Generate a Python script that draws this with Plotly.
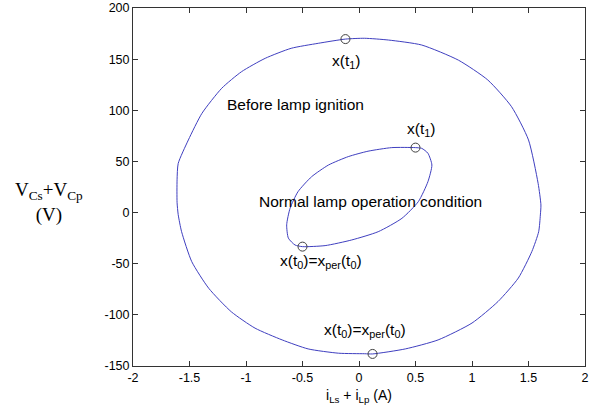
import plotly.graph_objects as go

# Phase-plane trajectory before lamp ignition (outer loop)
outer_i = [0.12, 0.41, 0.70, 1.00, 1.23, 1.41, 1.53, 1.59, 1.605, 1.61, 1.585, 1.50, 1.35, 1.14,
           0.88, 0.555, 0.26, 0.05, -0.12, -0.36, -0.60, -0.83, -1.04, -1.215, -1.39, -1.51,
           -1.60, -1.61, -1.61, -1.60, -1.57, -1.48, -1.33, -1.13, -0.92, -0.68, -0.45, -0.18,
           0.05, 0.12]
outer_v = [-138.2, -133.3, -124.5, -108, -87, -64, -38, -18.7, -2.3, 7.4, 28.6, 71, 103.5, 129.6,
           149, 163.8, 168.7, 170.4, 169.6, 165.5, 160.6, 150.8, 137.7, 121.5, 97, 71,
           48, 32, 10, -2, -18.7, -48, -74, -97, -113, -124.5, -133.3, -137.5,
           -138, -138.2]

# Steady-state trajectory under normal lamp operation (inner loop)
inner_i = [0.50, 0.29, 0.08, -0.095, -0.27, -0.42, -0.54, -0.61, -0.64, -0.625, -0.566, -0.50,
           -0.30, -0.065, 0.17, 0.38, 0.525, 0.61, 0.645, 0.61, 0.555, 0.50]
inner_v = [63.5, 63.5, 60, 54.7, 46.5, 35, 20.4, 4.2, -12, -25, -31.7, -33.3,
           -32.3, -26.8, -18.7, -5.6, 10.7, 30.2, 46.5, 58, 62.8, 63.5]

# Marked states x(t0) and x(t1) on each loop
mark_i = [-0.12, 0.12, 0.50, -0.50]
mark_v = [169.6, -138.2, 63.5, -33.3]

# Text labels: (text, i, v, anchor)
labels = [
    ("Before lamp ignition", -0.566, 105.2, "center"),
    ("Normal lamp operation condition", 0.106, 10.4, "center"),
    ("x(t<sub>1</sub>)", -0.257, 148.0, "left"),
    ("x(t<sub>1</sub>)", 0.407, 81.0, "left"),
    ("x(t<sub>0</sub>)=x<sub>per</sub>(t<sub>0</sub>)", -0.717, -47.5, "left"),
    ("x(t<sub>0</sub>)=x<sub>per</sub>(t<sub>0</sub>)", -0.327, -114.8, "left"),
]

x_ticks = [-2, -1.5, -1, -0.5, 0, 0.5, 1, 1.5, 2]
y_ticks = [-150, -100, -50, 0, 50, 100, 150, 200]

line_color = "#3f3fc0"
font_sans = "Liberation Sans, Arial, Helvetica, sans-serif"

fig = go.Figure()
fig.add_trace(go.Scatter(x=outer_i, y=outer_v, mode="lines",
                         line=dict(color=line_color, width=1, shape="spline", smoothing=0.6),
                         hoverinfo="skip", showlegend=False))
fig.add_trace(go.Scatter(x=inner_i, y=inner_v, mode="lines",
                         line=dict(color=line_color, width=1, shape="spline", smoothing=0.6),
                         hoverinfo="skip", showlegend=False))
fig.add_trace(go.Scatter(x=mark_i, y=mark_v, mode="markers",
                         marker=dict(symbol="circle-open", size=9, color="#404040",
                                     line=dict(width=1, color="#404040")),
                         hoverinfo="skip", showlegend=False))

for text, xi, yv, align in labels:
    fig.add_annotation(x=xi, y=yv, xref="x", yref="y", text=text, showarrow=False,
                       xanchor=align, yanchor="middle",
                       font=dict(family=font_sans, size=15.5, color="black"))

# Axis labels
fig.add_annotation(x=0.5, y=-0.085, xref="paper", yref="paper",
                   text="i<sub>Ls</sub> + i<sub>Lp</sub> (A)", showarrow=False,
                   xanchor="center", yanchor="middle",
                   font=dict(family=font_sans, size=14, color="black"))
fig.add_annotation(x=-0.185, y=0.458, xref="paper", yref="paper",
                   text="V<sub>Cs</sub>+V<sub>Cp</sub><br>(V)", showarrow=False,
                   xanchor="center", yanchor="middle", align="center",
                   font=dict(family="Liberation Serif, Times New Roman, serif", size=19, color="black"))

axis_common = dict(showline=True, linecolor="#333333", linewidth=1, mirror="ticks",
                   ticks="inside", ticklen=5, tickcolor="#333333", showgrid=False,
                   zeroline=False, automargin=False,
                   tickfont=dict(family=font_sans, size=12.5, color="black"))

fig.update_xaxes(range=[-2, 2], tickvals=x_ticks, ticktext=[f"{t:g}" for t in x_ticks], **axis_common)
fig.update_yaxes(range=[-150, 200], tickvals=y_ticks, ticktext=[f"{t:g}" for t in y_ticks], **axis_common)

fig.update_layout(width=597, height=411, margin=dict(l=133, r=12, t=8, b=45, autoexpand=False),
                  paper_bgcolor="white", plot_bgcolor="white")

fig.write_html("out.html")
